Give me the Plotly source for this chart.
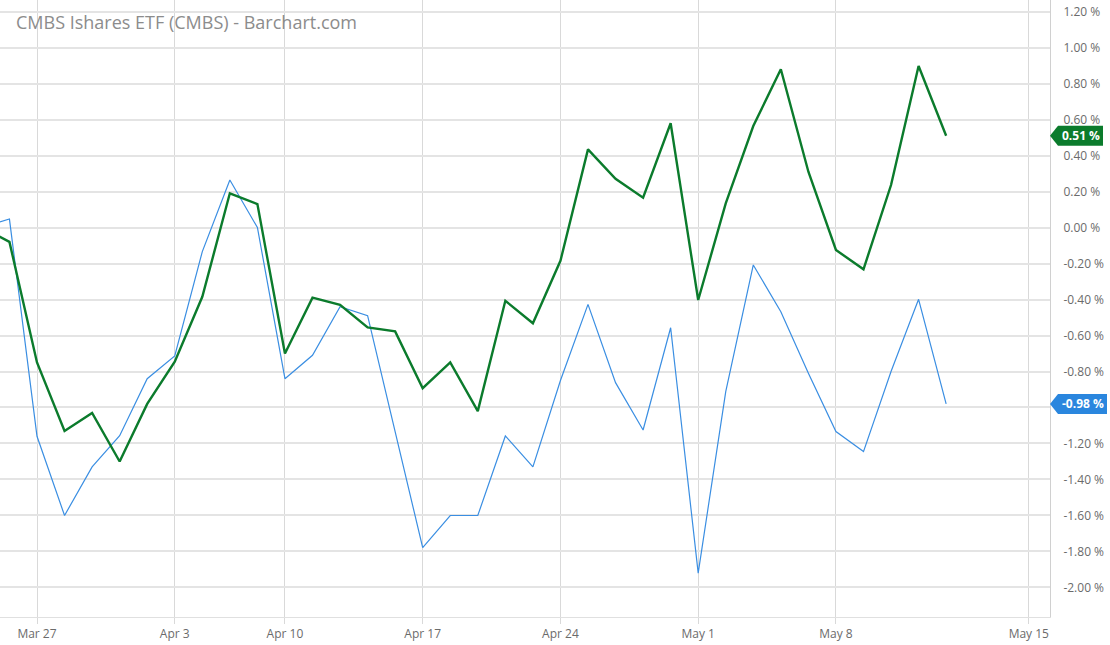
import plotly.graph_objects as go

# ---- data ----
dates = ["Mar 23", "Mar 24", "Mar 27", "Mar 28", "Mar 29", "Mar 30", "Mar 31",
         "Apr 3", "Apr 4", "Apr 5", "Apr 6",
         "Apr 10", "Apr 11", "Apr 12", "Apr 13", "Apr 14",
         "Apr 17", "Apr 18", "Apr 19", "Apr 20", "Apr 21",
         "Apr 24", "Apr 25", "Apr 26", "Apr 27", "Apr 28",
         "May 1", "May 2", "May 3", "May 4", "May 5",
         "May 8", "May 9", "May 10", "May 11", "May 12"]

cmbs_pct = [0.00, -0.08, -0.75, -1.13, -1.03, -1.30, -0.98,
            -0.745, -0.385, 0.19, 0.13,
            -0.70, -0.39, -0.43, -0.555, -0.577,
            -0.893, -0.749, -1.02, -0.407, -0.532,
            -0.185, 0.434, 0.271, 0.166, 0.579,
            -0.403, 0.134, 0.564, 0.879, 0.31,
            -0.125, -0.232, 0.236, 0.897, 0.51]

compare_pct = [0.00, 0.047, -1.16, -1.60, -1.33, -1.157, -0.84,
               -0.714, -0.134, 0.264, 0.0,
               -0.84, -0.71, -0.44, -0.49, -1.134,
               -1.779, -1.60, -1.60, -1.158, -1.33,
               -0.85, -0.427, -0.862, -1.125, -0.557,
               -1.92, -0.912, -0.208, -0.468, -0.81,
               -1.134, -1.245, -0.80, -0.399, -0.98]

x_tick_labels = ["Mar 27", "Apr 3", "Apr 10", "Apr 17", "Apr 24", "May 1", "May 8", "May 15"]
y_tick_values = [-2.0, -1.8, -1.6, -1.4, -1.2, -1.0, -0.8, -0.6, -0.4, -0.2,
                 0.0, 0.2, 0.4, 0.6, 0.8, 1.0, 1.2]

title_text = "CMBS Ishares ETF (CMBS) - Barchart.com"

# ---- styling ----
GREEN = "#0b7b2c"
BLUE = "#3a8ee2"
TAG_BLUE = "#2a86de"
FONT = "Open Sans"

x_pos = list(range(len(dates)))
# tick positions: trading-day index; future dates counted in calendar days past the last bar
tick_pos = []
for lab in x_tick_labels:
    if lab in dates:
        tick_pos.append(dates.index(lab))
    else:
        tick_pos.append(len(dates) - 1 + 3)

# y tick labels hidden where a last-value tag covers them (as in the reference)
last_values = [cmbs_pct[-1], compare_pct[-1]]
y_tick_text = []
for v in y_tick_values:
    covered = any(abs(v - lv) < 0.05 for lv in last_values)
    y_tick_text.append("" if covered else f"{v:.2f} %")

fig = go.Figure()
fig.add_trace(go.Scatter(x=x_pos, y=compare_pct, mode="lines",
                         line=dict(color=BLUE, width=1.2), hoverinfo="skip"))
fig.add_trace(go.Scatter(x=x_pos, y=cmbs_pct, mode="lines",
                         line=dict(color=GREEN, width=2.4), hoverinfo="skip"))

fig.update_layout(
    width=1110, height=645,
    margin=dict(l=0, r=60, t=0, b=28),
    paper_bgcolor="white", plot_bgcolor="white",
    showlegend=False,
    font=dict(family=FONT, color="#6b6b6b", size=12),
    xaxis=dict(range=[0.657, 38.77], tickvals=tick_pos, ticktext=x_tick_labels,
               showgrid=True, gridcolor="#d9d9d9", gridwidth=1,
               ticks="outside", ticklen=6, tickcolor="#d9d9d9",
               showline=True, linecolor="#e0e0e0", linewidth=1,
               zeroline=False, tickfont=dict(size=12, color="#6b6b6b")),
    yaxis=dict(range=[-2.164, 1.264], side="right",
               tickvals=y_tick_values,
               ticktext=y_tick_text,
               showgrid=True, gridcolor="#e4e4e4", gridwidth=1.5,
               ticks="", ticklabelstandoff=10,
               showline=True, linecolor="#d0d0d0", linewidth=1,
               zeroline=False, tickfont=dict(size=12, color="#6b6b6b")),
)

fig.add_annotation(text=title_text, xref="paper", yref="paper", x=0.013, y=0.987,
                   xanchor="left", yanchor="top", showarrow=False,
                   font=dict(family=FONT, size=18, color="#8c8c8c"))

# last-value tags on the right axis
for vals, col in [(cmbs_pct, GREEN), (compare_pct, TAG_BLUE)]:
    last = vals[-1]
    txt = f"{last:.2f} %"
    w = 53 if last >= 0 else 57
    fig.add_shape(type="path", xref="paper", yref="y",
                  xsizemode="pixel", ysizemode="pixel",
                  xanchor=1, yanchor=last,
                  path=f"M0,0 L8,10 L{w},10 L{w},-10 L8,-10 Z",
                  fillcolor=col, line=dict(width=0), layer="above")
    fig.add_annotation(text=f"<b>{txt}</b>", xref="paper", yref="y",
                       x=1, y=last, xanchor="center", yanchor="middle",
                       xshift=8 + (w - 8) / 2, showarrow=False,
                       font=dict(family=FONT, size=12, color="white"))

fig.write_html("out.html", config={"displayModeBar": False},
               post_script="document.body.style.margin='0';document.body.style.padding='0';")
